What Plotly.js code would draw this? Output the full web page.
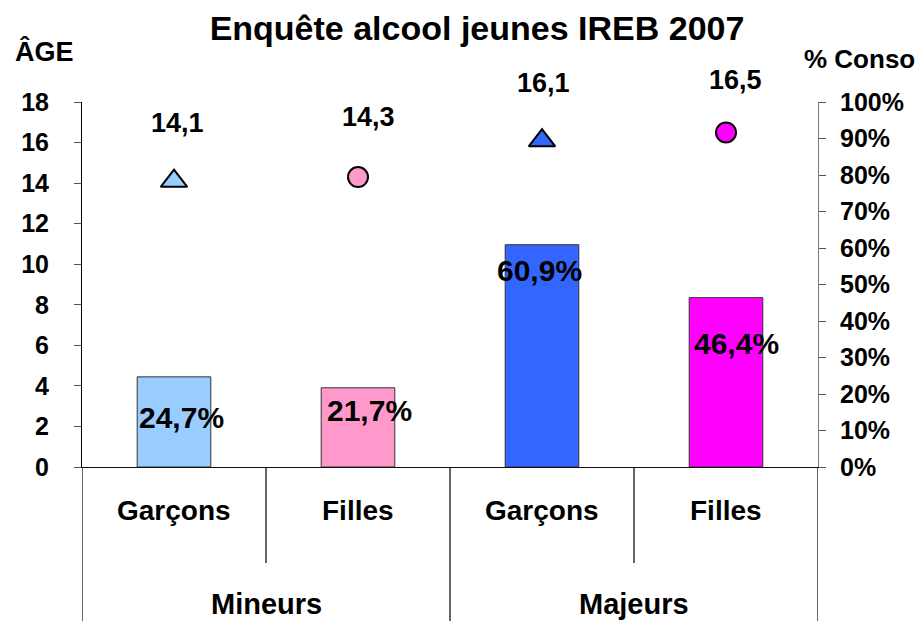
<!DOCTYPE html>
<html>
<head>
<meta charset="utf-8">
<script src="https://cdn.plot.ly/plotly-3.0.1.min.js"></script>
<style>
  html, body { margin: 0; padding: 0; background: #fff; }
  #chart { width: 919px; height: 621px; }
</style>
</head>
<body>
<div id="chart"></div>
<script>
// ---- data ----
const groups = ["Mineurs", "Mineurs", "Majeurs", "Majeurs"];
const categories = ["Garçons", "Filles", "Garçons", "Filles"];
const consoPct = [24.7, 21.7, 60.9, 46.4];      // % consommateurs (right axis)
const ageValues = [14.1, 14.3, 16.1, 16.5];     // âge (left axis)
const groupNames = ["Mineurs", "Majeurs"];

// ---- styles ----
const colors = ["#99CCFF", "#FF99CC", "#3366FF", "#FF00FF"];
const symbols = ["triangle-up", "circle", "triangle-up", "circle"];
const FONT = "Liberation Sans, Arial, sans-serif";

const xs = categories.map((_, i) => i);
const frac = consoPct.map(v => v / 100);
const fmt = (v, d) => v.toFixed(d).replace(".", ",");

const traces = [
  {
    type: "bar",
    x: xs,
    y: frac,
    yaxis: "y2",
    width: 0.4,
    marker: { color: colors, line: { color: "#333", width: 1 } },
    hoverinfo: "skip",
    showlegend: false
  },
  {
    type: "scatter",
    mode: "markers",
    x: xs,
    y: ageValues,
    yaxis: "y",
    marker: {
      color: colors,
      symbol: symbols,
      size: [23, 20, 23, 20],
      opacity: 1,
      line: { color: "#000", width: 2 }
    },
    hoverinfo: "skip",
    showlegend: false
  }
];

// label offsets (style)
const barLblDy = [-41, -23, -26, -46];
const barLblDx = [7, 11, -3, 10];
const ageLblDy = [58, 60, 58, 52];
const ageLblDx = [3, 10, 1, 9];

const annotations = [];
xs.forEach((x, i) => {
  annotations.push({
    x: x, y: frac[i], xref: "x", yref: "y2",
    text: "<b>" + fmt(consoPct[i], 1) + "%</b>",
    showarrow: false, yshift: barLblDy[i], xshift: barLblDx[i],
    font: { family: FONT, size: 30, color: "#000" }
  });
  annotations.push({
    x: x, y: ageValues[i], xref: "x", yref: "y",
    text: "<b>" + fmt(ageValues[i], 1) + "</b>",
    showarrow: false, yshift: ageLblDy[i], xshift: ageLblDx[i],
    font: { family: FONT, size: 27, color: "#000" }
  });
  annotations.push({
    x: x, y: -0.1205, xref: "x", yref: "paper",
    text: "<b>" + categories[i] + "</b>", showarrow: false, yanchor: "middle",
    font: { family: FONT, size: 28, color: "#000" }
  });
});
groupNames.forEach((g) => {
  const idx = groups.map((v, i) => v === g ? i : null).filter(v => v !== null);
  const cx = idx.reduce((a, b) => a + b, 0) / idx.length;
  annotations.push({
    x: cx, y: -0.375, xref: "x", yref: "paper",
    text: "<b>" + g + "</b>", showarrow: false, yanchor: "middle",
    font: { family: FONT, size: 29, color: "#000" }
  });
});

const shapes = [];
// long dividers at group boundaries and edges
[-0.5, 1.5, 3.5].forEach(x => shapes.push({
  type: "line", xref: "x", yref: "paper", x0: x, x1: x, y0: 0, y1: -0.43,
  line: { color: "#000", width: 1.2 }
}));
// short dividers between sub-categories
[0.5, 2.5].forEach(x => shapes.push({
  type: "line", xref: "x", yref: "paper", x0: x, x1: x, y0: 0, y1: -0.263,
  line: { color: "#000", width: 1.2 }
}));

const W = 919, H = 621, L = 82, R = 101, T = 102, B = 154;
const pw = W - L - R, ph = H - T - B;
const px2x = px => (px - L) / pw;
const py2y = py => (H - B - py) / ph;

annotations.push({
  x: px2x(44), y: py2y(52), xref: "paper", yref: "paper",
  text: "<b>ÂGE</b>", showarrow: false, xanchor: "center", yanchor: "middle",
  font: { family: FONT, size: 27, color: "#000" }
});
annotations.push({
  x: px2x(802), y: py2y(59), xref: "paper", yref: "paper",
  text: "<b>% Conso</b>", showarrow: false, xanchor: "left", yanchor: "middle",
  font: { family: FONT, size: 26, color: "#000" }
});

const layout = {
  width: W, height: H,
  margin: { l: L, r: R, t: T, b: B, pad: 0 },
  paper_bgcolor: "#fff", plot_bgcolor: "#fff",
  font: { family: FONT, color: "#000" },
  title: {
    text: "<b>Enquête alcool jeunes IREB 2007</b>",
    x: 477 / W, xanchor: "center", xref: "container",
    y: 1 - 28 / H, yanchor: "middle", yref: "container",
    font: { family: FONT, size: 34, color: "#000" }
  },
  showlegend: false,
  xaxis: {
    range: [-0.5, 3.5], showticklabels: false, ticks: "",
    showgrid: false, zeroline: false,
    showline: true, linecolor: "#111", linewidth: 1.3, mirror: false,
    fixedrange: true
  },
  yaxis: {
    range: [0, 18], dtick: 2, tick0: 0,
    showgrid: false, zeroline: false,
    showline: true, linecolor: "#000", linewidth: 1,
    ticks: "outside", ticklen: 7, tickcolor: "#555", tickwidth: 1,
    ticklabelstandoff: 20,
    tickfont: { family: FONT, size: 25, color: "#000", weight: "bold" },
    fixedrange: true
  },
  yaxis2: {
    range: [0, 1], dtick: 0.1, tick0: 0, tickformat: ".0%",
    overlaying: "y", side: "right",
    showgrid: false, zeroline: false,
    showline: true, linecolor: "#777", linewidth: 1,
    ticks: "outside", ticklen: 7, tickcolor: "#555", tickwidth: 1,
    ticklabelstandoff: 9,
    tickfont: { family: FONT, size: 25, color: "#000", weight: "bold" },
    fixedrange: true
  },
  annotations: annotations,
  shapes: shapes
};

Plotly.newPlot("chart", traces, layout, { displayModeBar: false, staticPlot: true });
</script>
</body>
</html>
